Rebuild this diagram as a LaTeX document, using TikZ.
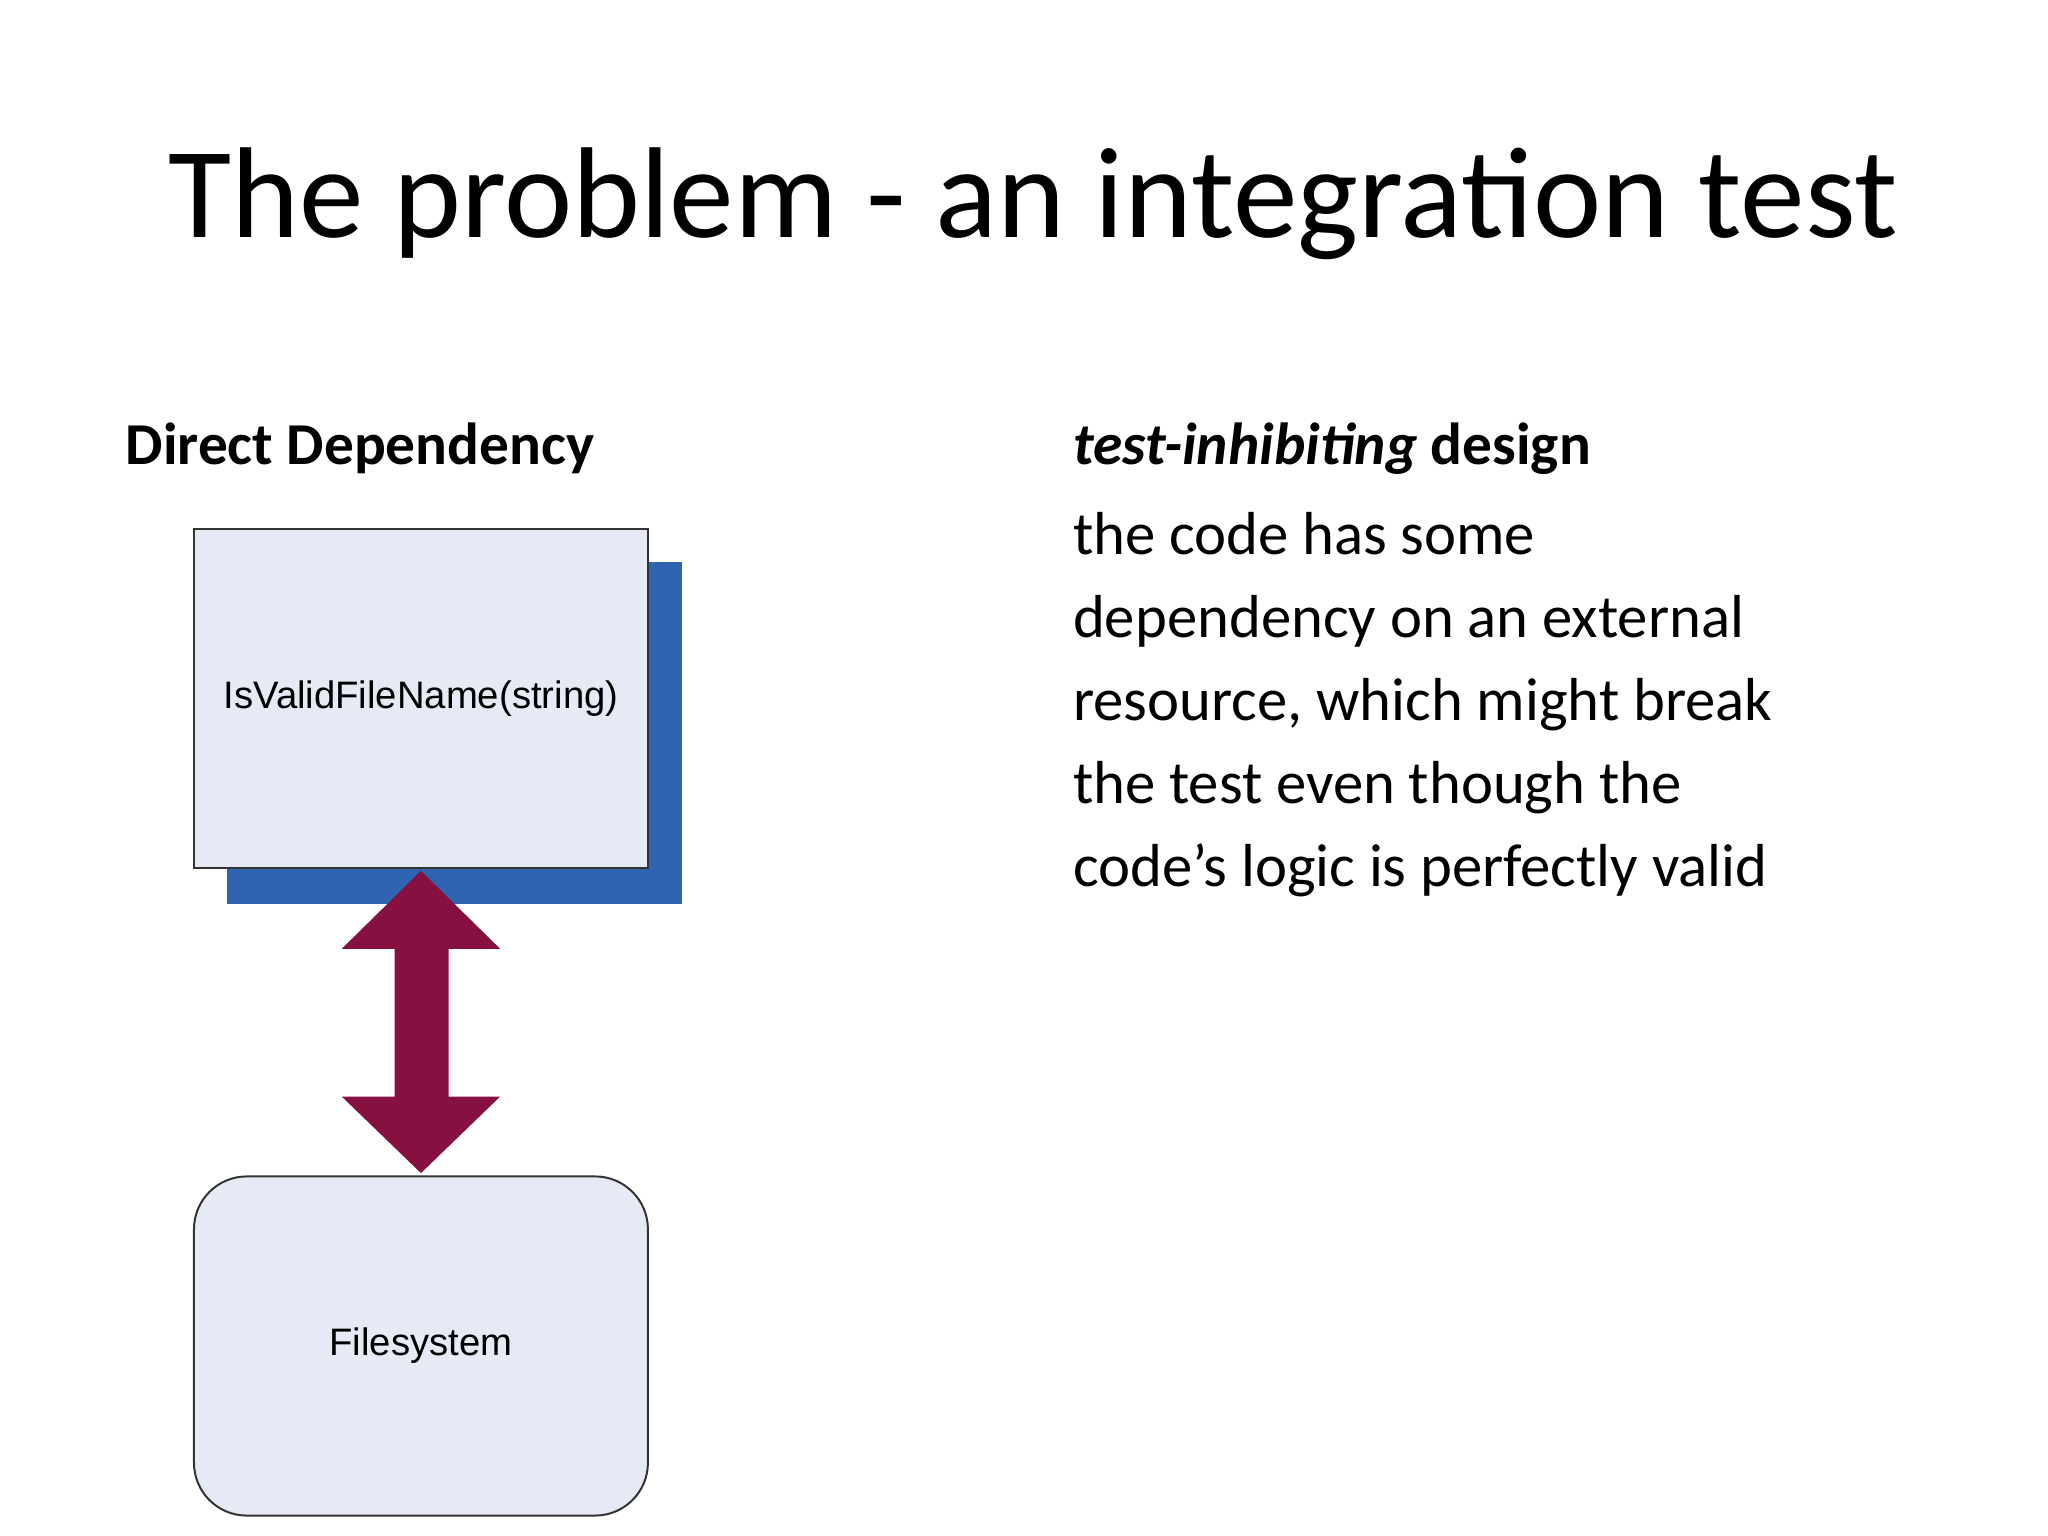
\documentclass[tikz,border=0pt]{standalone}
\usepackage{fontspec}
\setmainfont{Carlito}
\newfontfamily\arialf{Liberation Sans}
\begin{document}
\begin{tikzpicture}[x=1pt,y=-1pt,
  boxst/.style={draw=black!80,line width=1.5pt,fill=boxfill,minimum width=344pt,minimum height=257pt,inner sep=0pt,font=\arialf\fontsize{29}{34}\selectfont},
  bodyt/.style={anchor=north west,inner sep=0pt,align=left,font=\fontsize{46}{63}\selectfont}]
\definecolor{boxfill}{HTML}{E6EAF4}
\definecolor{shadowblue}{HTML}{2E64B0}
\definecolor{maroon}{HTML}{861040}
\useasboundingbox (0,0) rectangle (1552,1164);
\node[anchor=base,font=\fontsize{98}{110}\selectfont] (title) at (783,180) {The problem - an integration test};
\node[anchor=base west,inner sep=0pt,font=\bfseries\fontsize{45}{50}\selectfont] (h1) at (95,352) {Direct Dependency};
\node[anchor=base west,inner sep=0pt,font=\bfseries\fontsize{45}{50}\selectfont] (h2) at (813,352) {\textit{test-inhibiting} design};
\node[bodyt] (body) at (813,388) {the code has some\\dependency on an external\\resource, which might break\\the test even though the\\code’s logic is perfectly valid};
\fill[shadowblue] (172,426) rectangle (517,685);
\node[boxst] (fn) at (319,529.5) {IsValidFileName(string)};
\node[boxst,rounded corners=40pt] (fs) at (319,1020) {Filesystem};
\fill[maroon] (319,660) -- (379,719) -- (340,719) -- (340,831) -- (379,831) -- (319,889) -- (259,831) -- (299,831) -- (299,719) -- (259,719) -- cycle;
\end{tikzpicture}
\end{document}
